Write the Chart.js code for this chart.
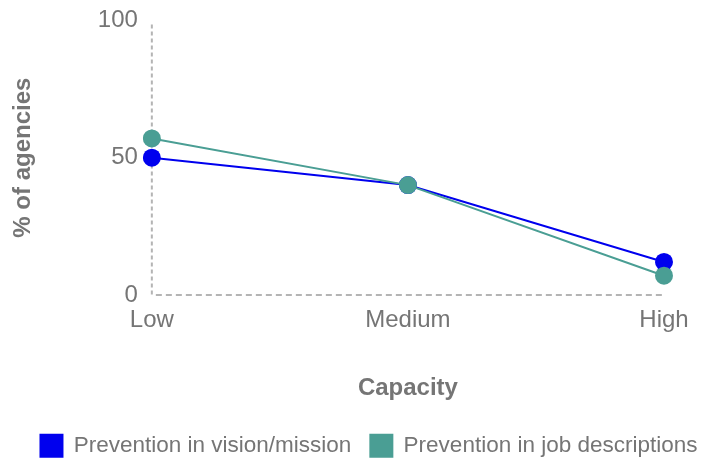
<!DOCTYPE html>
<html>
<head>
<meta charset="utf-8">
<script src="https://cdn.jsdelivr.net/npm/chart.js@4/dist/chart.umd.min.js"></script>
<style>
html,body{margin:0;padding:0;background:#fff;}
#wrap{width:708px;height:460px;position:relative;}
</style>
</head>
<body>
<div id="wrap"><canvas id="c" width="708" height="460"></canvas></div>
<script>
const categories = ["Low", "Medium", "High"];
const visionMission = [50, 40, 12];
const jobDescriptions = [57, 40, 7];
const yTicks = [0, 50, 100];
const seriesNames = ["Prevention in vision/mission", "Prevention in job descriptions"];

const gray = '#757575';
const axisGray = '#b4b4b4';
const font = 'Liberation Sans, Arial, Helvetica, sans-serif';

const dashedAxes = {
  id: 'dashedAxes',
  afterLayout(chart) {
    const lg = chart.legend;
    if (lg) { lg.left += 15; lg.right += 15; }
  },
  beforeDatasetsDraw(chart) {
    const {ctx, chartArea, scales} = chart;
    const y0 = scales.y.getPixelForValue(0);
    const x0 = scales.x.getPixelForValue(0);
    ctx.save();
    ctx.strokeStyle = axisGray;
    ctx.lineWidth = 2;
    ctx.setLineDash([6, 4]);
    ctx.beginPath();
    ctx.moveTo(x0 + 4, y0);
    ctx.lineTo(chartArea.right, y0);
    ctx.stroke();
    ctx.setLineDash([4, 3]);
    ctx.beginPath();
    ctx.moveTo(x0, chartArea.top + 4);
    ctx.lineTo(x0, y0);
    ctx.stroke();
    ctx.restore();
  }
};

new Chart(document.getElementById('c'), {
  type: 'line',
  data: {
    labels: categories,
    datasets: [
      {
        label: seriesNames[0],
        data: visionMission,
        borderColor: '#0000ee',
        backgroundColor: '#0000ee',
        borderWidth: 2,
        pointRadius: 9,
        pointHoverRadius: 9,
        pointBorderWidth: 0,
        tension: 0,
        order: 1
      },
      {
        label: seriesNames[1],
        data: jobDescriptions,
        borderColor: '#4a9e94',
        backgroundColor: '#4a9e94',
        borderWidth: 2,
        pointRadius: 9,
        pointHoverRadius: 9,
        pointBorderWidth: 0,
        tension: 0,
        order: 0
      }
    ]
  },
  options: {
    responsive: false,
    animation: false,
    layout: { padding: { left: 0, right: 0, top: 11, bottom: -7 } },
    plugins: {
      tooltip: { enabled: false },
      legend: {
        position: 'bottom',
        labels: {
          boxWidth: 22,
          boxHeight: 22,
          color: gray,
          font: { family: font, size: 22.5 },
          padding: 19,
          sort: (a, b) => a.datasetIndex - b.datasetIndex
        }
      }
    },
    scales: {
      x: {
        offset: false,
        grid: { display: false },
        border: { display: false },
        afterFit: (axis) => { axis.paddingRight = Math.max(axis.paddingRight, 44); },
        ticks: { color: gray, font: { family: font, size: 24 }, padding: 3, maxRotation: 0 },
        title: {
          display: true,
          text: 'Capacity',
          color: gray,
          font: { family: font, size: 24, weight: 'bold' },
          padding: { top: 36, bottom: 13 }
        }
      },
      y: {
        min: 0,
        max: 100,
        afterBuildTicks: (axis) => { axis.ticks = yTicks.map(v => ({ value: v })); },
        grid: { display: false },
        border: { display: false },
        ticks: { color: gray, font: { family: font, size: 24 }, padding: 6 },
        title: {
          display: true,
          text: '% of agencies',
          color: gray,
          font: { family: font, size: 24, weight: 'bold' },
          padding: { top: 9, bottom: 54 }
        }
      }
    }
  },
  plugins: [dashedAxes]
});
</script>
</body>
</html>
